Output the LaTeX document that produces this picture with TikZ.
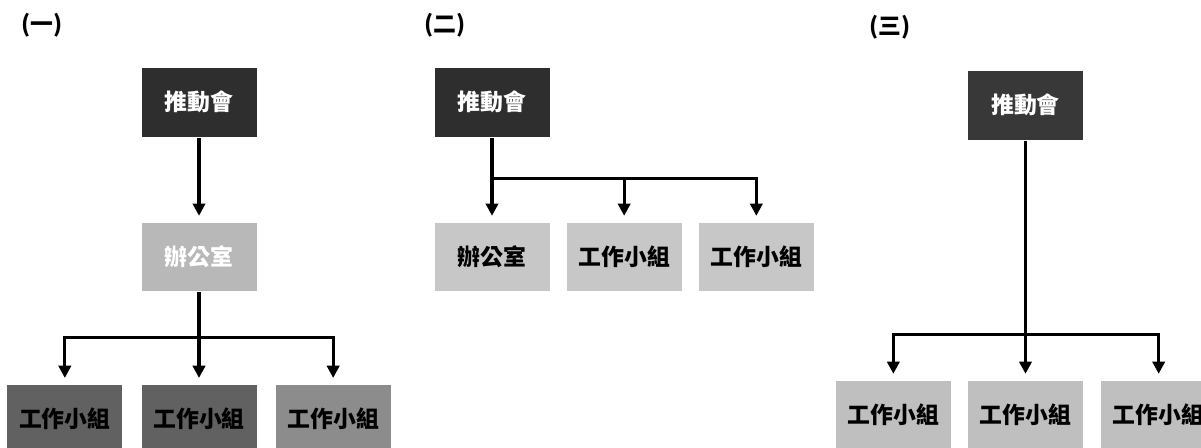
\documentclass[tikz,border=0pt]{standalone}
\usepackage{fontspec}
\newfontfamily\cjk{Noto Sans CJK TC}
\usetikzlibrary{arrows.meta}
\usetikzlibrary{positioning}
\tikzset{
	node distance=1.66cm,
	every path/.style = {line width=1.8pt},
	every node/.style = {inner sep=0pt, font=\cjk\bfseries\fontsize{13}{15}\selectfont}
}

\begin{document}
\begin{tikzpicture}[lead/.style={rectangle,fill=black!82,text=white,minimum width=2.3cm,minimum height=1.38cm},
	unit/.style={rectangle,fill=black!28,minimum width=2.3cm,minimum height=1.36cm},
	wire/.style={line width=1.8pt},
	link/.style={wire,-{Triangle[length=7pt,width=7pt]},shorten >=3pt}]
	\useasboundingbox (0,0) rectangle (24.02,-8.94);
	% (一)
	\node (tag1) at (0.84,-0.5) {(一)};
	\node (top1) [lead] at (3.98,-2.04) {推動會};
	\node (off1) [unit,below=of top1,text=white] {辦公室};
	\node (grp12) [unit,below=1.82cm of off1,fill=black!62] {工作小組};
	\node (grp11) [unit,left=0.32cm of grp12,fill=black!62] {工作小組};
	\node (grp13) [unit,right=0.32cm of grp12,fill=black!45] {工作小組};
	\coordinate [below=0.9cm of off1] (fork1);
	\draw [link] (top1) -- (off1);
	\draw [wire] (off1) -- (fork1);
	\draw [link] (fork1) -| (grp11);
	\draw [link] (fork1) -- (grp12);
	\draw [link] (fork1) -| (grp13);
	% (二)
	\node (tag2) at (8.9,-0.5) {(二)};
	\node (top2) [lead] at (9.84,-2.04) {推動會};
	\node (off2) [unit,below=of top2,fill=black!22] {辦公室};
	\node (grp21) [unit,right=0.28cm of off2,fill=black!22] {工作小組};
	\node (grp22) [unit,right=0.28cm of grp21,fill=black!22] {工作小組};
	\coordinate [below=0.8cm of top2] (fork2);
	\draw [wire] (top2) -- (fork2);
	\draw [link] (fork2) -- (off2);
	\draw [link] (fork2) -| (grp21);
	\draw [link] (fork2) -| (grp22);
	% (三)
	\node (tag3) at (17.8,-0.54) {(三)};
	\node (top3) [lead,fill=black!78] at (20.51,-2.1) {推動會};
	\node (grp32) [unit,below=4.76cm of top3,fill=black!25] {工作小組};
	\node (grp31) [unit,left=0.28cm of grp32,fill=black!25] {工作小組};
	\node (grp33) [unit,right=0.3cm of grp32,fill=black!25] {工作小組};
	\coordinate [below=3.86cm of top3] (fork3);
	\draw [wire] (top3) -- (fork3);
	\draw [link] (fork3) -| (grp31);
	\draw [link] (fork3) -- (grp32);
	\draw [link] (fork3) -| (grp33);
\end{tikzpicture}
\end{document}
